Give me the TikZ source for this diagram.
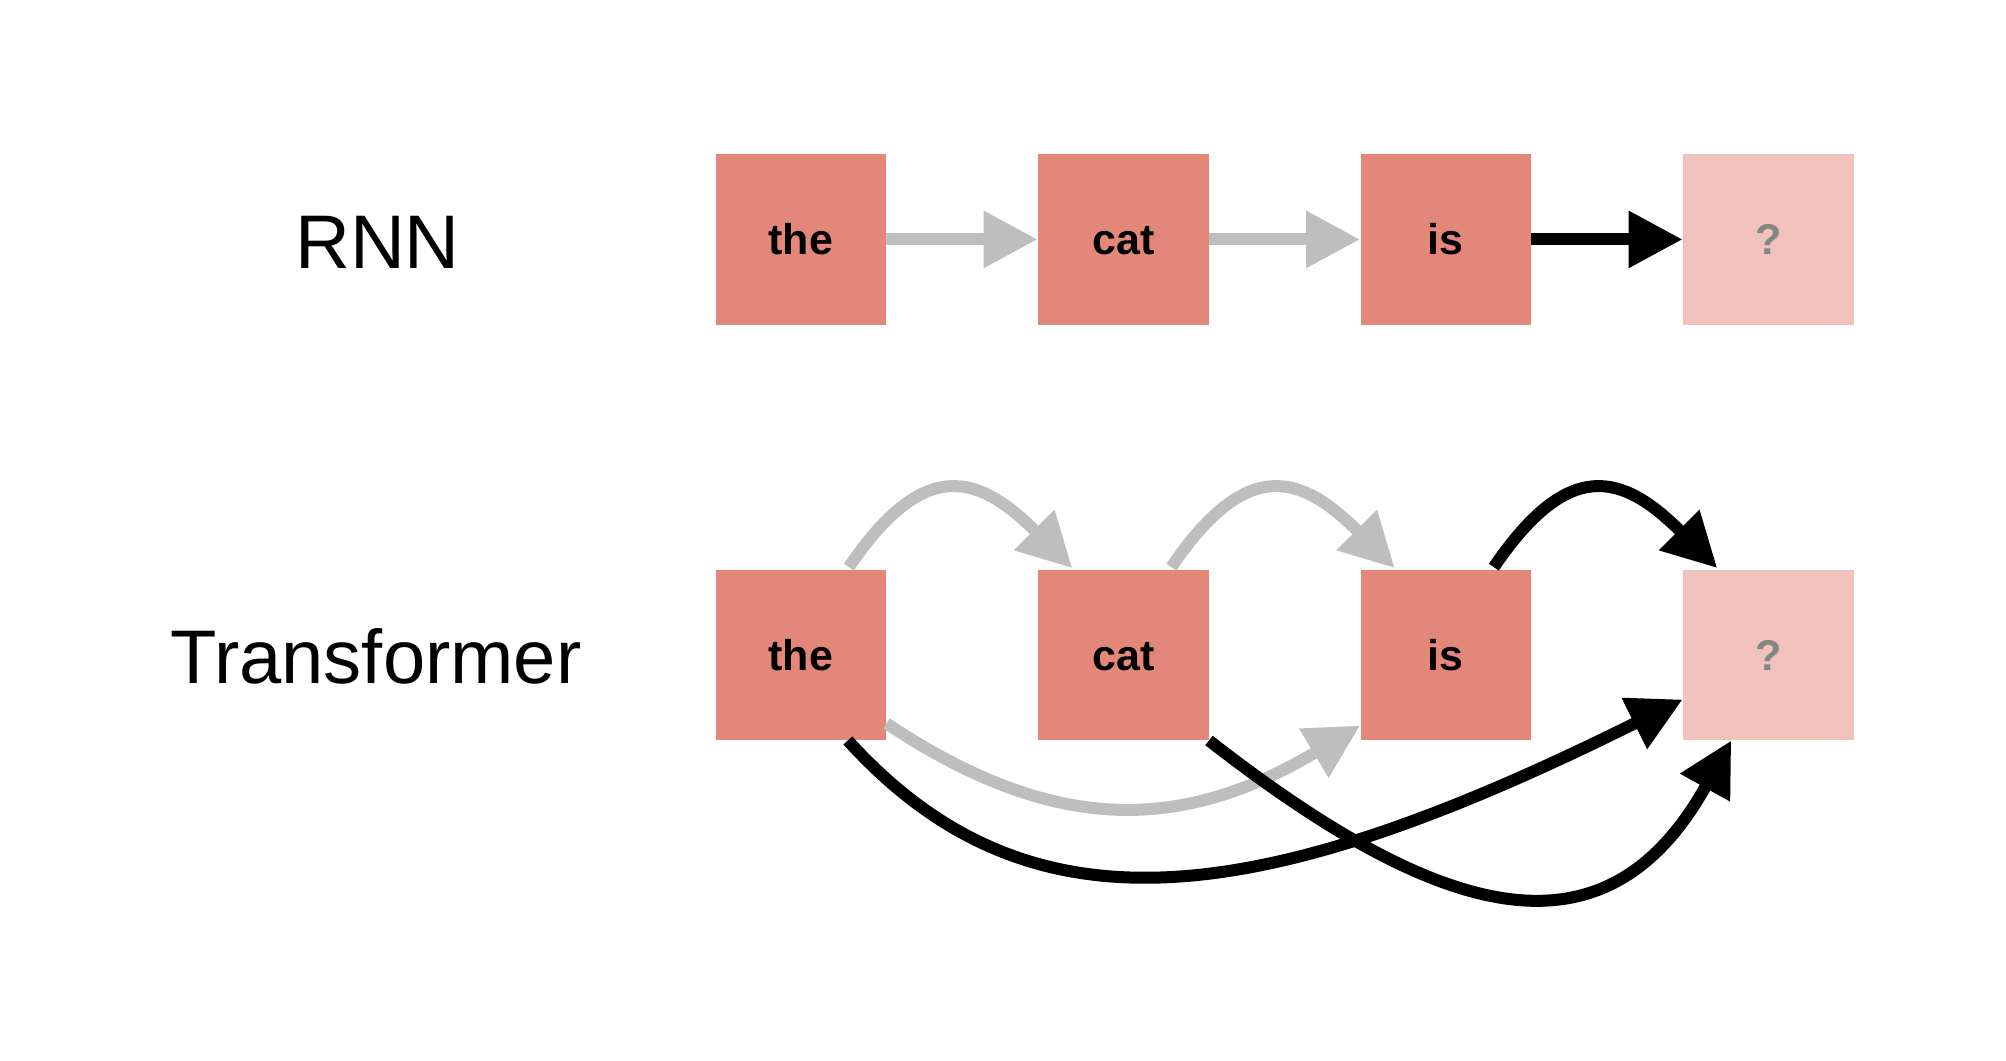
\documentclass[tikz,border=0pt]{standalone}
\usepackage{fontspec}
\setmainfont{Liberation Sans}
\usetikzlibrary{arrows.meta,calc}
\definecolor{boxred}{HTML}{E4877B}
\definecolor{boxlight}{HTML}{F1C1BB}
\definecolor{arrgray}{HTML}{BEBEBE}
\definecolor{qgray}{HTML}{858585}
\begin{document}
\begin{tikzpicture}[x=0.5pt,y=-0.5pt,
  tok/.style={fill=boxred, minimum width=85.25pt, minimum height=85.25pt, inner sep=0pt,
    text height=15.5pt, text depth=0pt, font=\fontsize{21.5pt}{24pt}\selectfont\bfseries},
  qtok/.style={tok, fill=boxlight, text=qgray},
  lbl/.style={font=\fontsize{38pt}{44pt}\selectfont, anchor=base, inner sep=0pt},
  conn/.style={line width=6pt, -{Triangle[length=27pt,width=27pt]}},
  grayconn/.style={conn, draw=arrgray},
  blackconn/.style={conn, draw=black}]
\useasboundingbox (0,0) rectangle (2006,1060);
% labels
\node[lbl] (rnn) at (377.5,268.3) {RNN};
\node[lbl] (trf) at (376,683.3) {Transformer};
% RNN row
\node[tok]  (the1) at (800.8,239.4) {the};
\node[tok]  (cat1) at (1123.3,239.4) {cat};
\node[tok]  (is1)  at (1445.8,239.4) {is};
\node[qtok] (q1)   at (1768.3,239.4) {?};
% Transformer row
\node[tok]  (the2) at (800.8,654.8) {the};
\node[tok]  (cat2) at (1123.3,654.8) {cat};
\node[tok]  (is2)  at (1445.8,654.8) {is};
\node[qtok] (q2)   at (1768.3,654.8) {?};
% RNN connectors
\draw[grayconn]  (the1) -- (cat1);
\draw[grayconn]  (cat1) -- (is1);
\draw[blackconn] (is1) -- (q1);
% Transformer connectors
\draw[grayconn] ($(the2.north)+(48,-2)$) .. controls +(75,-110) and +(-95,-95) .. ($(cat2.north)+(-51,-1)$);
\draw[grayconn] ($(cat2.north)+(48,-2)$) .. controls +(75,-110) and +(-95,-95) .. ($(is2.north)+(-51,-1)$);
\draw[grayconn] ($(the2.south east)+(0,-17)$) .. controls +(164,109) and +(-182,109) .. ($(is2.south west)+(0,-15)$);
\draw[blackconn] ($(is2.north)+(48,-2)$) .. controls +(75,-110) and +(-95,-95) .. ($(q2.north)+(-51,-1)$);
\draw[blackconn] ($(the2.south)+(47,0)$) .. controls +(180,198) and +(-430,214) .. ($(q2.south west)+(0,-41)$);
\draw[blackconn] (cat2.south east) .. controls +(250,195) and +(-120,215) .. ($(q2.south)+(-37,0)$);
\end{tikzpicture}
\end{document}
